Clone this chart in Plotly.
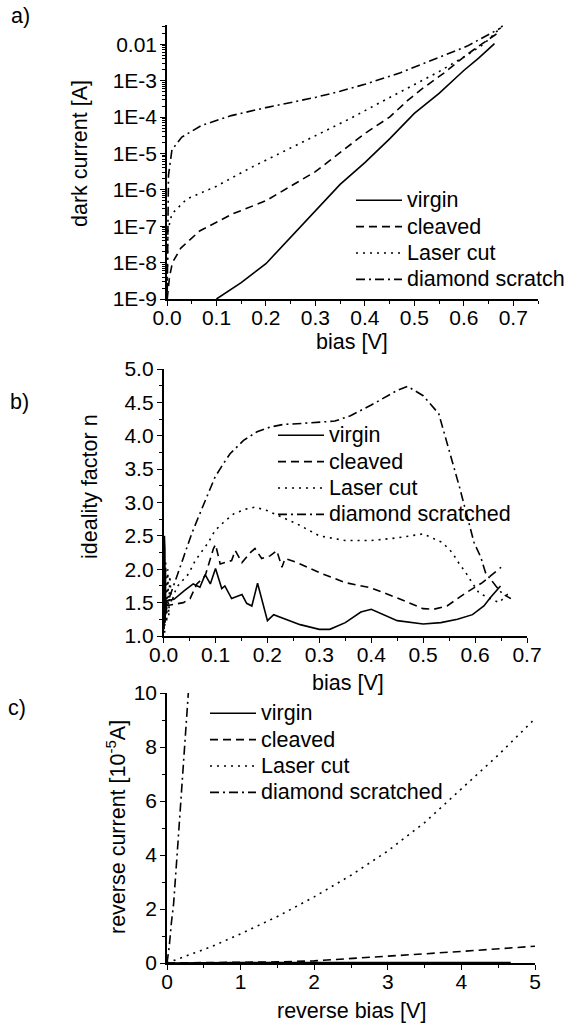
import plotly.graph_objects as go

# ---------------- Panel a: dark current (log) vs bias ----------------
a_virgin_x = [0.10, 0.15, 0.20, 0.25, 0.27, 0.30, 0.35, 0.40, 0.45, 0.50, 0.55, 0.60, 0.63, 0.662]
a_virgin_log10I = [-9.0, -8.55, -8.03, -7.3, -7.0, -6.55, -5.85, -5.25, -4.6, -3.9, -3.35, -2.72, -2.38, -1.98]

a_cleaved_x = [0.0005, 0.002, 0.005, 0.011, 0.028, 0.066, 0.133, 0.20, 0.27, 0.30, 0.40, 0.45, 0.486, 0.518, 0.559, 0.60, 0.63, 0.668]
a_cleaved_log10I = [-9.0, -8.8, -8.4, -8.0, -7.6, -7.13, -6.66, -6.3, -5.75, -5.5, -4.45, -4.0, -3.55, -3.2, -2.8, -2.35, -2.05, -1.70]

a_laser_x = [0.0005, 0.002, 0.01, 0.04, 0.10, 0.168, 0.235, 0.302, 0.369, 0.438, 0.505, 0.55, 0.60, 0.64, 0.68]
a_laser_log10I = [-8.5, -7.1, -6.66, -6.25, -5.9, -5.4, -4.95, -4.5, -4.05, -3.55, -3.07, -2.75, -2.35, -2.0, -1.47]

a_diamond_x = [0.0005, 0.001, 0.002, 0.003, 0.01, 0.03, 0.07, 0.13, 0.20, 0.25, 0.30, 0.35, 0.40, 0.472, 0.538, 0.607, 0.675]
a_diamond_log10I = [-8.8, -7.5, -6.2, -5.6, -4.9, -4.55, -4.23, -3.96, -3.74, -3.61, -3.46, -3.29, -3.1, -2.78, -2.42, -2.05, -1.55]

a_ytick_vals = [1e-9, 1e-8, 1e-7, 1e-6, 1e-5, 1e-4, 1e-3, 1e-2]
a_ytick_text = ["1E-9", "1E-8", "1E-7", "1E-6", "1E-5", "1E-4", "1E-3", "0.01"]
a_legend = ["virgin", "cleaved", "Laser cut", "diamond scratch"]

# ---------------- Panel b: ideality factor vs bias ----------------
b_virgin_x = [0.001, 0.0015, 0.002, 0.0025, 0.003, 0.0035, 0.004, 0.006, 0.02, 0.04, 0.057, 0.07, 0.08, 0.09, 0.10,
              0.112, 0.118, 0.131, 0.151, 0.16, 0.17, 0.181, 0.20, 0.212, 0.238, 0.263, 0.30, 0.32, 0.35, 0.38,
              0.40, 0.45, 0.50, 0.534, 0.566, 0.595, 0.617, 0.63, 0.649]
b_virgin_n = [1.1, 2.5, 1.3, 2.3, 1.2, 2.0, 1.4, 1.53, 1.55, 1.68, 1.78, 1.73, 1.92, 1.78, 2.01,
              1.71, 1.75, 1.56, 1.62, 1.49, 1.45, 1.79, 1.23, 1.32, 1.24, 1.17, 1.10, 1.10, 1.2, 1.36,
              1.4, 1.23, 1.18, 1.2, 1.25, 1.32, 1.45, 1.58, 1.75]

b_cleaved_x = [0.003, 0.038, 0.051, 0.064, 0.08, 0.096, 0.10, 0.109, 0.131, 0.138, 0.151, 0.167, 0.176, 0.189,
               0.205, 0.218, 0.228, 0.234, 0.257, 0.30, 0.35, 0.40, 0.45, 0.50, 0.52, 0.546, 0.579, 0.614, 0.65]
b_cleaved_n = [1.45, 1.5, 1.56, 1.78, 1.9, 2.31, 2.37, 2.08, 2.13, 2.28, 2.1, 2.25, 2.31, 2.16,
               2.2, 2.28, 2.03, 2.16, 2.1, 1.95, 1.8, 1.72, 1.57, 1.41, 1.40, 1.45, 1.63, 1.80, 2.03]

b_laser_x = [0.002, 0.004, 0.006, 0.008, 0.010, 0.012, 0.015, 0.025, 0.048, 0.061, 0.073, 0.086, 0.099, 0.115,
             0.135, 0.157, 0.176, 0.199, 0.257, 0.30, 0.35, 0.40, 0.45, 0.50, 0.537, 0.556, 0.568, 0.582, 0.595,
             0.608, 0.646, 0.662, 0.67]
b_laser_n = [1.05, 2.1, 1.2, 2.0, 1.3, 1.9, 1.5, 1.73, 1.93, 2.13, 2.26, 2.40, 2.58, 2.7,
             2.83, 2.9, 2.93, 2.88, 2.68, 2.5, 2.43, 2.43, 2.47, 2.53, 2.40, 2.25, 2.10, 1.95, 1.79,
             1.64, 1.5, 1.62, 1.57]

b_diamond_x = [0.003, 0.009, 0.025, 0.041, 0.054, 0.067, 0.083, 0.099, 0.115, 0.128, 0.154, 0.18, 0.205, 0.231,
               0.257, 0.30, 0.33, 0.36, 0.40, 0.45, 0.47, 0.50, 0.53, 0.57, 0.598, 0.611, 0.62, 0.64, 0.653, 0.669]
b_diamond_n = [1.3, 1.53, 1.88, 2.23, 2.53, 2.78, 3.08, 3.38, 3.58, 3.73, 3.93, 4.06, 4.13, 4.17,
               4.18, 4.2, 4.22, 4.3, 4.46, 4.68, 4.74, 4.6, 4.33, 3.23, 2.40, 2.18, 1.95, 1.75, 1.63, 1.56]

b_legend = ["virgin", "cleaved", "Laser cut", "diamond scratched"]

# ---------------- Panel c: reverse current vs reverse bias ----------------
c_virgin_x = [0.0, 0.5, 1.0, 1.5, 2.0, 2.5, 3.0, 3.5, 4.0, 4.5, 4.67]
c_virgin_I = [0.0, 0.02, 0.02, 0.02, 0.02, 0.02, 0.02, 0.02, 0.02, 0.02, 0.02]

c_cleaved_x = [0.0, 0.5, 1.0, 1.5, 2.0, 2.5, 3.0, 3.5, 4.0, 4.5, 5.0]
c_cleaved_I = [0.0, 0.01, 0.02, 0.04, 0.08, 0.16, 0.25, 0.34, 0.43, 0.52, 0.62]

c_laser_x = [0.0, 0.15, 0.3, 0.6, 1.0, 1.5, 2.0, 2.5, 3.0, 3.5, 4.0, 4.5, 5.0]
c_laser_I = [0.0, 0.14, 0.3, 0.6, 1.08, 1.72, 2.45, 3.25, 4.15, 5.2, 6.45, 7.7, 9.05]

c_diamond_x = [0.0, 0.03, 0.06, 0.09, 0.15, 0.20, 0.25, 0.29, 0.30]
c_diamond_I = [0.0, 0.6, 1.5, 2.2, 4.5, 6.5, 8.5, 10.0, 10.4]

c_legend = ["virgin", "cleaved", "Laser cut", "diamond scratched"]

panel_labels = ["a)", "b)", "c)"]

# ---------------- styling ----------------
FONT = "Liberation Sans, Arial, sans-serif"
FS = 21          # tick labels
TFS = 21.5       # titles / legend text
LFS = 18         # legend base size (controls row spacing)
LW = 1.6
ITEMW = 46
DASHES = ["solid", "8px,5px", "2px,5px", "9px,4px,2px,4px"]

fig = go.Figure()

def add_panel(series, names, xa, ya, legend):
    for (x, y), name, dash in zip(series, names, DASHES):
        fig.add_trace(go.Scatter(
            x=x, y=y, mode="lines",
            name=f'<span style="font-size:{TFS}px">{name}</span>',
            line=dict(color="black", width=LW, dash=dash),
            xaxis=xa, yaxis=ya, legend=legend, showlegend=True,
        ))

add_panel([(a_virgin_x, [10 ** v for v in a_virgin_log10I]),
           (a_cleaved_x, [10 ** v for v in a_cleaved_log10I]),
           (a_laser_x, [10 ** v for v in a_laser_log10I]),
           (a_diamond_x, [10 ** v for v in a_diamond_log10I])],
          a_legend, "x", "y", "legend")
add_panel([(b_virgin_x, b_virgin_n), (b_cleaved_x, b_cleaved_n),
           (b_laser_x, b_laser_n), (b_diamond_x, b_diamond_n)],
          b_legend, "x2", "y2", "legend2")
add_panel([(c_virgin_x, c_virgin_I), (c_cleaved_x, c_cleaved_I),
           (c_laser_x, c_laser_I), (c_diamond_x, c_diamond_I)],
          c_legend, "x3", "y3", "legend3")

W, H = 568, 1024
def px(xp):
    return xp / W
def py(yp):
    return 1 - yp / H

axis_common = dict(
    showline=True, linecolor="black", linewidth=1.5, mirror=False,
    ticks="outside", ticklen=5, tickwidth=1.3, tickcolor="black",
    showgrid=False, zeroline=False, automargin=False,
    tickfont=dict(family=FONT, size=FS, color="black"),
)
xaxis_extra = dict(ticklabelstandoff=-6)
yaxis_extra = dict(ticklabelstandoff=-1)
minor_common = dict(ticks="outside", ticklen=3, tickwidth=1.1, tickcolor="black", showgrid=False)

a_minor_vals = [k * d for d in a_ytick_vals[:-1] for k in range(2, 10)] + [k * 1e-2 for k in range(2, 4)]

legend_common = dict(
    bgcolor="rgba(0,0,0,0)", borderwidth=0,
    font=dict(family=FONT, size=LFS, color="black"),
    tracegroupgap=0, xanchor="left", yanchor="top", itemwidth=ITEMW,
)

fig.update_layout(
    width=W, height=H,
    margin=dict(l=0, r=0, t=0, b=0, pad=0, autoexpand=False),
    paper_bgcolor="white", plot_bgcolor="white",
    font=dict(family=FONT, size=FS, color="black"),
    xaxis=dict(domain=[px(167), px(538)], range=[0, 0.75], anchor="y",
               tickvals=[0, 0.1, 0.2, 0.3, 0.4, 0.5, 0.6, 0.7], tickformat=".1f",
               minor=dict(dtick=0.05, **minor_common), **axis_common, **xaxis_extra),
    yaxis=dict(domain=[py(299), py(25)], type="log", range=[-9, -1.47], anchor="x",
               tickvals=a_ytick_vals, ticktext=a_ytick_text,
               minor=dict(tickmode="array", tickvals=a_minor_vals, **minor_common),
               **axis_common, **yaxis_extra),
    xaxis2=dict(domain=[px(163.6), px(527)], range=[0, 0.7], anchor="y2",
                dtick=0.1, tickformat=".1f",
                minor=dict(dtick=0.05, **minor_common), **axis_common, **xaxis_extra),
    yaxis2=dict(domain=[py(636), py(369)], range=[1, 5], anchor="x2",
                dtick=0.5, tickformat=".1f",
                minor=dict(dtick=0.25, **minor_common), **axis_common, **yaxis_extra),
    xaxis3=dict(domain=[px(167), px(535)], range=[0, 5], anchor="y3",
                dtick=1, minor=dict(dtick=0.5, **minor_common), **axis_common, **xaxis_extra),
    yaxis3=dict(domain=[py(963), py(693)], range=[0, 10], anchor="x3",
                dtick=2, minor=dict(dtick=1, **minor_common), **axis_common, **yaxis_extra),
    legend=dict(x=px(407 - ITEMW - 10), y=py(182), **legend_common),
    legend2=dict(x=px(329 - ITEMW - 10), y=py(417), **legend_common),
    legend3=dict(x=px(261 - ITEMW - 10), y=py(695), **legend_common),
)

def note(text, xp, yp, angle=0):
    fig.add_annotation(text=text, x=px(xp), y=py(yp), xref="paper", yref="paper",
                       showarrow=False, textangle=angle, xanchor="center", yanchor="middle",
                       font=dict(family=FONT, size=TFS, color="black"))

# axis titles
note("bias [V]", 352, 342)
note("dark current [A]", 80, 154, -90)
note("bias [V]", 348, 683)
note("ideality factor n", 90, 487, -90)
note("reverse bias [V]", 351, 1011)
note("reverse current [10<sup>-5</sup>A]", 116, 827, -90)
# panel labels
note(panel_labels[0], 20, 16)
note(panel_labels[1], 19, 402)
note(panel_labels[2], 17, 708)

fig.write_html("out.html")
